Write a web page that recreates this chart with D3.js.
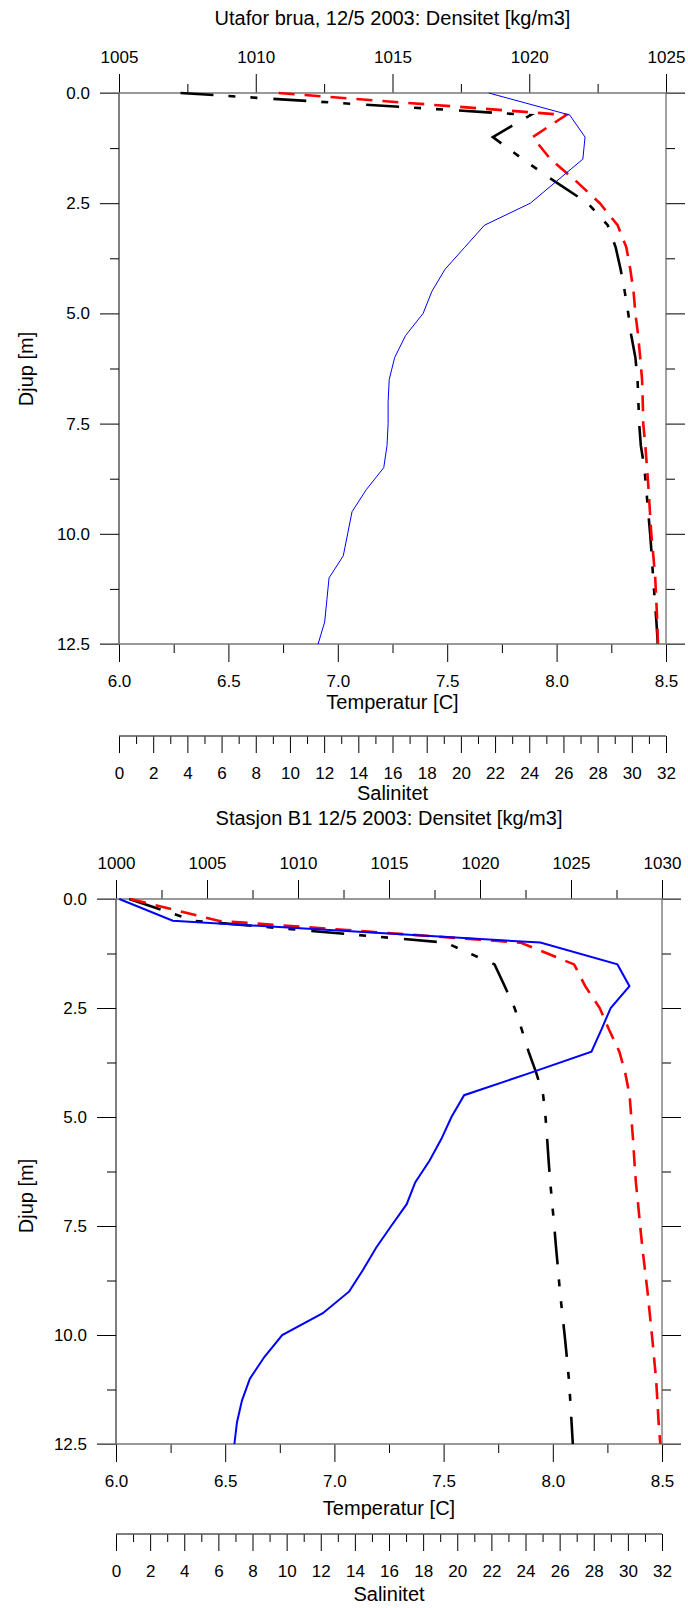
<!DOCTYPE html>
<html>
<head>
<meta charset="utf-8">
<script src="https://cdn.jsdelivr.net/npm/d3@7"></script>
<style>
  html, body { margin: 0; padding: 0; background: #fff; }
  svg { display: block; }
  text { font-family: "Liberation Sans", Arial, sans-serif; fill: #000; }
</style>
</head>
<body>
<svg id="chart" width="688" height="1608"></svg>
<script>
// ---------- DATA ----------
const depthGrid = [0, 0.5, 1, 1.5, 2, 2.5, 3, 3.5, 4, 4.5, 5, 5.5, 6, 6.5, 7, 7.5, 8, 8.5, 9, 9.5, 10, 10.5, 11, 11.5, 12, 12.5];

// Panel 1: Utafor brua
const tempUtafor = [7.69, 8.06, 8.13, 8.12, 8.00, 7.88, 7.67, 7.58, 7.49, 7.43, 7.39, 7.31, 7.26, 7.235, 7.23, 7.23, 7.225, 7.21, 7.13, 7.065, 7.045, 7.025, 6.96, 6.95, 6.94, 6.91];
const salUtafor  = [9.34, 26.16, 24.2, 25.24, 26.74, 28.13, 29.17, 29.68, 29.91, 30.10, 30.21, 30.37, 30.49, 30.60, 30.64, 30.67, 30.79, 30.89, 30.98, 31.06, 31.14, 31.26, 31.37, 31.43, 31.49, 31.53];
const densUtafor = [1007.25, 1020.05, 1018.67, 1019.76, 1020.92, 1022.14, 1022.87, 1023.16, 1023.34, 1023.49, 1023.62, 1023.73, 1023.88, 1023.96, 1023.99, 1024.02, 1024.08, 1024.21, 1024.28, 1024.35, 1024.42, 1024.48, 1024.53, 1024.59, 1024.65, 1024.70];

// Panel 2: Stasjon B1
const tempB1 = [6.015, 6.26, 7.943, 8.296, 8.351, 8.265, 8.222, 8.177, 7.89, 7.594, 7.536, 7.49, 7.436, 7.37, 7.331, 7.26, 7.191, 7.132, 7.068, 6.947, 6.761, 6.68, 6.613, 6.577, 6.554, 6.542];
const salB1  = [0.84, 6.0, 23.7, 26.85, 27.5, 28.35, 28.9, 29.5, 29.85, 30.1, 30.2, 30.3, 30.38, 30.47, 30.6, 30.72, 30.85, 31.0, 31.15, 31.28, 31.41, 31.53, 31.65, 31.73, 31.8, 31.9];
const densB1 = [1000.73, 1004.3, 1018.1, 1020.8, 1021.36, 1021.9, 1022.3, 1022.67, 1023.1, 1023.47, 1023.6, 1023.69, 1023.77, 1023.86, 1023.97, 1024.08, 1024.18, 1024.29, 1024.39, 1024.52, 1024.65, 1024.77, 1024.88, 1024.96, 1025.03, 1025.1];

// Axis tick values
const depthMajor = [0, 2.5, 5, 7.5, 10, 12.5];
const depthMinor = [1.25, 3.75, 6.25, 8.75, 11.25];
const tempMajor = [6.0, 6.5, 7.0, 7.5, 8.0, 8.5];
const tempMinor = [6.25, 6.75, 7.25, 7.75, 8.25];
const salMajor = d3.range(0, 33, 2);
const salMinor = d3.range(1, 32, 2);
const densMajorUtafor = [1005, 1010, 1015, 1020, 1025];
const densMinorUtafor = [1007.5, 1012.5, 1017.5, 1022.5];
const densMajorB1 = [1000, 1005, 1010, 1015, 1020, 1025, 1030];
const densMinorB1 = [1002.5, 1007.5, 1012.5, 1017.5, 1022.5, 1027.5];

const titles = ["Utafor brua, 12/5 2003: Densitet [kg/m3]", "Stasjon B1 12/5 2003: Densitet [kg/m3]"];

// ---------- DRAW ----------
const svg = d3.select("#chart");

function styleAxis(g, fs) {
  g.select(".domain").remove();
  g.selectAll(".tick line").attr("stroke", "#000").attr("stroke-width", 1);
  g.selectAll(".tick text").attr("font-size", fs).attr("font-family", '"Liberation Sans", Arial, sans-serif').attr("fill", "#000");
}

function panel(cfg) {
  const {L, R, T, B, titleY, topLblPad, tempLblY, tempTitleY, salY, salTitleY, djupY,
         dens, densMajor, densMinor, temp, sal, title} = cfg;

  const y = d3.scaleLinear().domain([0, 12.5]).range([T, B]);
  const xT = d3.scaleLinear().domain([6.0, 8.5]).range([L, R]);
  const xS = d3.scaleLinear().domain([0, 32]).range([L, R]);
  const xD = d3.scaleLinear().domain([densMajor[0], densMajor[densMajor.length - 1]]).range([L, R]);
  const fs = 17;

  // title
  svg.append("text").attr("x", (L + R) / 2).attr("y", titleY).attr("text-anchor", "middle")
    .attr("font-size", 20).text(title);

  // top density axis
  const gTop = svg.append("g").attr("transform", `translate(0,${T})`)
    .call(d3.axisTop(xD).tickValues(densMajor).tickFormat(d3.format("d")).tickSize(19).tickSizeOuter(0).tickPadding(topLblPad));
  styleAxis(gTop, fs);
  const gTopm = svg.append("g").attr("transform", `translate(0,${T})`)
    .call(d3.axisTop(xD).tickValues(densMinor).tickFormat("").tickSize(9).tickSizeOuter(0));
  styleAxis(gTopm, fs);

  // bottom temperature axis
  const gBot = svg.append("g").attr("transform", `translate(0,${B})`)
    .call(d3.axisBottom(xT).tickValues(tempMajor).tickFormat(d3.format(".1f")).tickSize(18).tickSizeOuter(0).tickPadding(12));
  styleAxis(gBot, fs);
  gBot.selectAll(".tick text").attr("dy", null).attr("y", tempLblY - B);
  const gBotm = svg.append("g").attr("transform", `translate(0,${B})`)
    .call(d3.axisBottom(xT).tickValues(tempMinor).tickFormat("").tickSize(9).tickSizeOuter(0));
  styleAxis(gBotm, fs);

  // left depth axis
  const gL = svg.append("g").attr("transform", `translate(${L},0)`)
    .call(d3.axisLeft(y).tickValues(depthMajor).tickFormat(d3.format(".1f")).tickSize(19).tickSizeOuter(0).tickPadding(10));
  styleAxis(gL, fs);
  const gLm = svg.append("g").attr("transform", `translate(${L},0)`)
    .call(d3.axisLeft(y).tickValues(depthMinor).tickFormat("").tickSize(9).tickSizeOuter(0));
  styleAxis(gLm, fs);

  // right depth axis (ticks only)
  const gR = svg.append("g").attr("transform", `translate(${R},0)`)
    .call(d3.axisRight(y).tickValues(depthMajor).tickFormat("").tickSize(19).tickSizeOuter(0));
  styleAxis(gR, fs);
  const gRm = svg.append("g").attr("transform", `translate(${R},0)`)
    .call(d3.axisRight(y).tickValues(depthMinor).tickFormat("").tickSize(9).tickSizeOuter(0));
  styleAxis(gRm, fs);

  // frame
  svg.append("line").attr("x1", L).attr("x2", L).attr("y1", T).attr("y2", B).attr("stroke", "#000").attr("stroke-width", 1);
  svg.append("line").attr("x1", R).attr("x2", R).attr("y1", T).attr("y2", B).attr("stroke", "#444").attr("stroke-width", 1);
  svg.append("line").attr("x1", L - 19).attr("x2", R + 19).attr("y1", T).attr("y2", T).attr("stroke", "#777").attr("stroke-width", 1.5);
  svg.append("line").attr("x1", L - 19).attr("x2", R + 19).attr("y1", B).attr("y2", B).attr("stroke", "#777").attr("stroke-width", 1.5);

  // axis titles
  svg.append("text").attr("x", (L + R) / 2).attr("y", tempTitleY).attr("text-anchor", "middle")
    .attr("font-size", 20).text("Temperatur [C]");
  svg.append("text").attr("transform", `translate(33,${djupY}) rotate(-90)`).attr("text-anchor", "middle")
    .attr("font-size", 20).text("Djup [m]");

  // salinity axis
  const gS = svg.append("g").attr("transform", `translate(0,${salY})`)
    .call(d3.axisBottom(xS).tickValues(salMajor).tickFormat(d3.format("d")).tickSize(17).tickSizeOuter(0).tickPadding(14));
  styleAxis(gS, fs);
  const gSm = svg.append("g").attr("transform", `translate(0,${salY})`)
    .call(d3.axisBottom(xS).tickValues(salMinor).tickFormat("").tickSize(8).tickSizeOuter(0));
  styleAxis(gSm, fs);
  svg.append("line").attr("x1", L).attr("x2", R).attr("y1", salY).attr("y2", salY).attr("stroke", "#555").attr("stroke-width", 1.5);
  svg.append("text").attr("x", (L + R) / 2).attr("y", salTitleY).attr("text-anchor", "middle")
    .attr("font-size", 20).text("Salinitet");

  // curves
  const clipId = "clip" + Math.round(T);
  svg.append("clipPath").attr("id", clipId).append("rect")
    .attr("x", L - 2).attr("y", T - 2).attr("width", R - L + 4).attr("height", B - T + 4);
  const gc = svg.append("g").attr("clip-path", `url(#${clipId})`);

  const lineOf = (xs, vals) => d3.line().x((d, i) => xs(vals[i])).y(d => y(d))(depthGrid);

  gc.append("path").attr("d", lineOf(xD, dens)).attr("fill", "none").attr("stroke", "#000")
    .attr("stroke-width", 2.6).attr("stroke-dasharray", "33,15,7,15,7,16");
  gc.append("path").attr("d", lineOf(xS, sal)).attr("fill", "none").attr("stroke", "#ff0000")
    .attr("stroke-width", 2.6).attr("stroke-dasharray", "16,10");
  gc.append("path").attr("d", lineOf(xT, temp)).attr("fill", "none").attr("stroke", "#0000ff")
    .attr("stroke-width", cfg.blueW);
}

panel({L: 119, R: 666, T: 93, B: 644, titleY: 25, topLblPad: 11, tempLblY: 687, tempTitleY: 709,
       salY: 736, salTitleY: 800, djupY: 369, blueW: 1,
       dens: densUtafor, densMajor: densMajorUtafor, densMinor: densMinorUtafor,
       temp: tempUtafor, sal: salUtafor, title: titles[0]});

panel({L: 116, R: 662, T: 899, B: 1444, titleY: 825, topLblPad: 11, tempLblY: 1487, tempTitleY: 1515,
       salY: 1534, salTitleY: 1601, djupY: 1196, blueW: 2,
       dens: densB1, densMajor: densMajorB1, densMinor: densMinorB1,
       temp: tempB1, sal: salB1, title: titles[1]});
</script>
</body>
</html>
